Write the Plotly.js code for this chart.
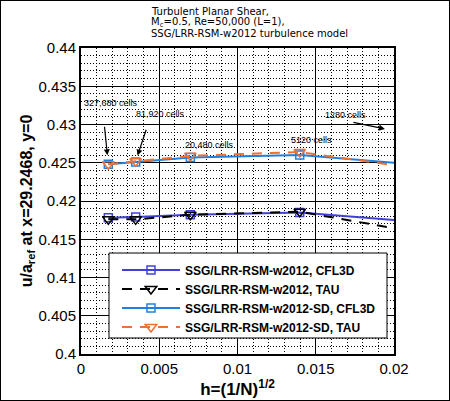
<!DOCTYPE html>
<html>
<head>
<meta charset="utf-8">
<script src="https://cdn.plot.ly/plotly-3.0.1.min.js"></script>
<style>
  body { margin: 0; background: white; }
  #wrap { position: relative; width: 450px; height: 401px; }
  #chart { width: 450px; height: 401px; }
  #frame { position: absolute; left: 0; top: 0; width: 450px; height: 401px;
           box-sizing: border-box; border: 1px solid black; pointer-events: none; }
</style>
</head>
<body>
<div id="wrap"><div id="chart"></div><div id="frame"></div></div>
<script>
// grid levels, h = (1/N)^(1/2)
const cells = ["327,680", "81,920", "20,480", "5120", "1280"];
const h = [0.0017469, 0.0034939, 0.0069877, 0.0139754, 0.0279508];

// u/a_ref at x=29.2468, y=0
const cfl3d   = [0.4178, 0.4179, 0.4182, 0.4185, 0.4162];
const tau     = [0.4176, 0.4176, 0.4182, 0.4186, 0.4136];
const sdCfl3d = [0.4248, 0.4251, 0.4257, 0.4260, 0.4237];
const sdTau   = [0.4248, 0.4252, 0.4259, 0.4264, 0.4224];

const xTicks = [0, 0.005, 0.01, 0.015, 0.02];
const xTickText = ["0", "0.005", "0.01", "0.015", "0.02"];
const yTicks = [0.4, 0.405, 0.41, 0.415, 0.42, 0.425, 0.43, 0.435, 0.44];
const yTickText = ["0.4", "0.405", "0.41", "0.415", "0.42", "0.425", "0.43", "0.435", "0.44"];

const titleLines = [
    "Turbulent Planar Shear,",
    "M<sub>c</sub>=0.5, Re=50,000 (L=1),",
    "SSG/LRR-RSM-w2012 turbulence model",
];

const blueDark = "#4040d8";
const blueLight = "#2080e0";
const orange = "#ee7032";
const sans = "Liberation Sans, Arial, sans-serif";

const initChart = () => {
    let trace_cfl3d = {
        name: "SSG/LRR-RSM-w2012, CFL3D",
        x: h, y: cfl3d,
        type: "scatter", mode: "lines+markers",
        line: { color: blueDark, width: 2 },
        marker: { symbol: "square-open", size: 8, color: blueDark, line: { width: 1.5 } },
    };
    let trace_tau = {
        name: "SSG/LRR-RSM-w2012, TAU",
        x: h, y: tau,
        type: "scatter", mode: "lines+markers",
        line: { color: "black", width: 2, dash: "10px,8px" },
        marker: { symbol: "triangle-down-open", size: 10, color: "black", line: { width: 1.5 } },
    };
    let trace_sd_cfl3d = {
        name: "SSG/LRR-RSM-w2012-SD, CFL3D",
        x: h, y: sdCfl3d,
        type: "scatter", mode: "lines+markers",
        line: { color: blueLight, width: 2 },
        marker: { symbol: "square-open", size: 8, color: blueLight, line: { width: 1.5 } },
    };
    let trace_sd_tau = {
        name: "SSG/LRR-RSM-w2012-SD, TAU",
        x: h, y: sdTau,
        type: "scatter", mode: "lines+markers",
        line: { color: orange, width: 2, dash: "10px,8px" },
        marker: { symbol: "triangle-down-open", size: 10, color: orange, line: { width: 1.5 } },
    };

    const cellFont = { family: sans, size: 9, color: "black" };
    let annotations = [
        // cell count labels, shifted off the points they name
        { x: h[0], y: sdTau[0], text: cells[0] + " cells", showarrow: false, xshift: 3, yshift: 61 },
        { x: h[1], y: sdTau[1], text: cells[1] + " cells", showarrow: false, xshift: 25, yshift: 47 },
        { x: h[2], y: sdTau[2], text: cells[2] + " cells", showarrow: false, xshift: 19, yshift: 11 },
        { x: h[3], y: sdTau[3], text: cells[3] + " cells", showarrow: false, xshift: 12, yshift: 12 },
        { x: 0.01687, y: 0.43124, text: cells[4] + " cells", showarrow: false },
        // arrows
        { x: h[0], y: sdTau[0], text: "", showarrow: true, ax: -4, ay: -39, standoff: 9 },
        { x: h[1], y: sdTau[1], text: "", showarrow: true, ax: 11, ay: -33, standoff: 6 },
        { x: 0.01942, y: 0.42941, text: "", showarrow: true, ax: -33, ay: -7 },
    ].map((a) => Object.assign({
        xref: "x", yref: "y", font: cellFont,
        arrowhead: 2, arrowsize: 1, arrowwidth: 1.2, arrowcolor: "black",
    }, a));

    // three-line title, tight line spacing
    titleLines.forEach((t, i) => {
        annotations.push({
            xref: "paper", yref: "paper",
            x: 0.217, y: [1.1209, 1.0817, 1.0458][i],
            xanchor: "left", yanchor: "middle",
            text: t, showarrow: false,
            font: { family: "DejaVu Sans, sans-serif", size: 10, color: "black" },
        });
    });

    const axisCommon = {
        tickmode: "array",
        showgrid: true, gridcolor: "black", gridwidth: 1,
        zeroline: false,
        showline: true, linecolor: "black", linewidth: 2, mirror: true,
        ticks: "",
        tickfont: { family: sans, size: 15, color: "black" },
        automargin: false,
    };

    let layout = {
        autosize: false,
        width: 450,
        height: 401,
        margin: { l: 81, r: 56, t: 48, b: 47, pad: 0 },
        paper_bgcolor: "white",
        plot_bgcolor: "white",
        showlegend: true,
        legend: {
            x: 0.115, y: 0.322, xanchor: "left", yanchor: "top",
            bgcolor: "rgba(0,0,0,0)", borderwidth: 0,
            itemwidth: 58,
            font: { family: sans, size: 12, weight: "bold", color: "black" },
        },
        xaxis: Object.assign({}, axisCommon, {
            range: [0, 0.02],
            tickvals: xTicks, ticktext: xTickText,
            minor: { tickmode: "linear", tick0: 0, dtick: 0.001, showgrid: true,
                     gridcolor: "black", griddash: "1px,2px", gridwidth: 1, ticks: "" },
            title: { text: "<b>h=(1/N)<sup>1/2</sup></b>", standoff: 2,
                     font: { family: sans, size: 17, color: "black" } },
        }),
        yaxis: Object.assign({}, axisCommon, {
            range: [0.4, 0.44],
            tickvals: yTicks, ticktext: yTickText,
            minor: { tickmode: "linear", tick0: 0.4, dtick: 0.001, showgrid: true,
                     gridcolor: "black", griddash: "1px,2px", gridwidth: 1, ticks: "" },
            title: { text: "<b>u/a<sub>ref</sub> at x=29.2468, y=0</b>", standoff: 2,
                     font: { family: sans, size: 16, color: "black" } },
        }),
        shapes: [{
            type: "rect", xref: "paper", yref: "paper",
            x0: 0.0895, x1: 0.9776, y0: 0.0523, y1: 0.330,
            fillcolor: "white", line: { color: "black", width: 1 }, layer: "above",
        }],
        annotations: annotations,
    };

    let config = { responsive: false, displayModeBar: false, staticPlot: true };
    let series = [trace_cfl3d, trace_tau, trace_sd_cfl3d, trace_sd_tau];
    Plotly.newPlot("chart", series, layout, config);
};

initChart();
</script>
</body>
</html>
